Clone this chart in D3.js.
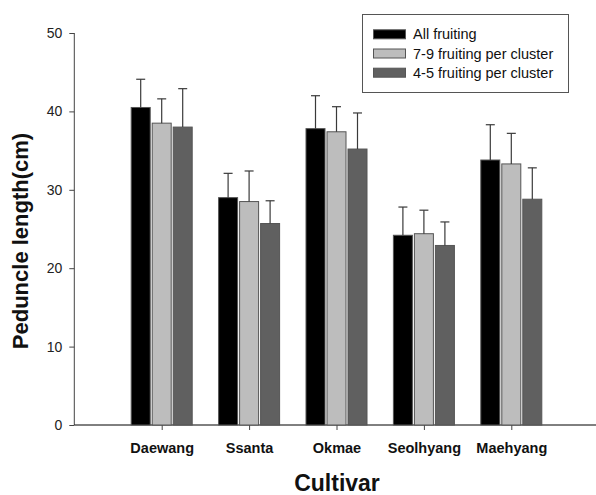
<!DOCTYPE html>
<html>
<head>
<meta charset="utf-8">
<script src="https://cdn.jsdelivr.net/npm/d3@7"></script>
<style>
  html, body { margin: 0; padding: 0; background: #fff; }
  svg { display: block; font-family: "Liberation Sans", Arial, sans-serif; }
</style>
</head>
<body>
<svg id="chart" width="596" height="495"></svg>
<script>
// Cultivars on the x axis
const cultivars = ["Daewang", "Ssanta", "Okmae", "Seolhyang", "Maehyang"];
// Fruiting treatments (series)
const seriesNames = ["All fruiting", "7-9 fruiting per cluster", "4-5 fruiting per cluster"];
const seriesColors = ["#000000", "#bdbdbd", "#606060"];
// Mean peduncle length (cm), one array per series
const allFruiting   = [40.5, 29.0, 37.8, 24.2, 33.8];
const fruiting7to9  = [38.5, 28.5, 37.4, 24.4, 33.3];
const fruiting4to5  = [38.0, 25.7, 35.2, 22.9, 28.8];
// Standard deviation (upper error bar)
const allFruitingErr  = [3.6, 3.1, 4.2, 3.6, 4.5];
const fruiting7to9Err = [3.1, 3.9, 3.2, 3.0, 3.9];
const fruiting4to5Err = [4.9, 2.9, 4.6, 3.0, 4.0];
// Y axis ticks
const yTicks = [0, 10, 20, 30, 40, 50];

const means = [allFruiting, fruiting7to9, fruiting4to5];
const errs = [allFruitingErr, fruiting7to9Err, fruiting4to5Err];

const svg = d3.select("#chart");
const plotLeft = 74.3, plotBottom = 425, plotTop = 33;

const y = d3.scaleLinear().domain([0, 50]).range([plotBottom, plotTop]);
// category positions 1..5 on a 0..6 linear axis
const x = d3.scaleLinear().domain([0, 6]).range([plotLeft, plotLeft + 6 * 87.4]);
const barW = 19, barStep = 21;

// Y axis
const yAxis = svg.append("g")
  .attr("transform", `translate(${plotLeft},0)`)
  .call(d3.axisLeft(y).tickValues(yTicks).tickSize(5).tickPadding(7).tickFormat(d3.format("d")));
yAxis.select(".domain").attr("stroke", "#444").attr("d", `M0,${plotTop}V${plotBottom}`);
yAxis.selectAll(".tick line").attr("stroke", "#444");
yAxis.selectAll(".tick text").attr("font-size", 14).attr("fill", "#222");

// X axis
const xAxis = svg.append("g")
  .attr("transform", `translate(0,${plotBottom})`)
  .call(d3.axisBottom(x).tickValues([1, 2, 3, 4, 5]).tickSize(5).tickPadding(13)
    .tickFormat(d => cultivars[d - 1]));
xAxis.select(".domain").attr("stroke", "#000").attr("d", `M${plotLeft},0H596`);
xAxis.selectAll(".tick line").attr("stroke", "#444");
xAxis.selectAll(".tick text").attr("font-size", 14.5).attr("font-weight", "bold").attr("fill", "#111");

// Bars and error bars
means.forEach((vals, s) => {
  const g = svg.append("g");
  const offset = (s - 1) * barStep;
  g.selectAll("rect").data(vals).enter().append("rect")
    .attr("x", (d, i) => x(i + 1) + offset - barW / 2)
    .attr("y", d => y(d))
    .attr("width", barW)
    .attr("height", d => plotBottom - y(d))
    .attr("fill", seriesColors[s])
    .attr("stroke", "#555")
    .attr("stroke-width", 1);
  const eg = svg.append("g").attr("stroke", "#3a3a3a").attr("stroke-width", 1.2);
  vals.forEach((d, i) => {
    const cx = x(i + 1) + offset;
    const y0 = y(d), y1 = y(d + errs[s][i]);
    eg.append("line").attr("x1", cx).attr("x2", cx).attr("y1", y0).attr("y2", y1);
    eg.append("line").attr("x1", cx - 4.5).attr("x2", cx + 4.5).attr("y1", y1).attr("y2", y1);
  });
});

// Legend
const lg = svg.append("g");
lg.append("rect").attr("x", 362.5).attr("y", 14.5).attr("width", 206).attr("height", 78)
  .attr("fill", "#fff").attr("stroke", "#555");
seriesNames.forEach((name, s) => {
  const cy = 34.3 + s * 19.2;
  lg.append("rect").attr("x", 373.5).attr("y", cy - 4.5).attr("width", 32).attr("height", 9)
    .attr("fill", seriesColors[s]).attr("stroke", "#555");
  lg.append("text").attr("x", 413).attr("y", cy + 5).attr("font-size", 14.5).attr("fill", "#111").text(name);
});

// Axis titles
svg.append("text").attr("x", 337).attr("y", 491).attr("text-anchor", "middle")
  .attr("font-size", 23).attr("font-weight", "bold").attr("fill", "#111").text("Cultivar");
svg.append("text").attr("transform", "translate(28,241) rotate(-90)").attr("text-anchor", "middle")
  .attr("font-size", 22).attr("font-weight", "bold").attr("fill", "#111").text("Peduncle length(cm)");
</script>
</body>
</html>
